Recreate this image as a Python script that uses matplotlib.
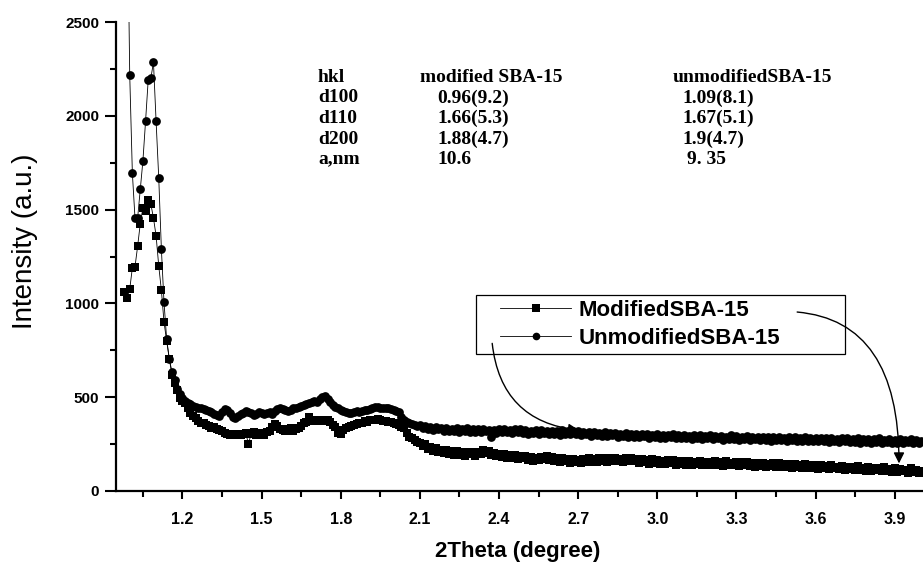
import numpy as np
import matplotlib
matplotlib.use("Agg")
import matplotlib.pyplot as plt
from matplotlib.lines import Line2D
from matplotlib.patches import Rectangle

# ---------------- data ----------------
mod_start, unmod_start, step = 0.98, 0.99, 0.01

modified = [
    1060, 1030,
    1075, 1190, 1195, 1305, 1425, 1510, 1495, 1550, 1530, 1455,
    1360, 1200, 1070, 900, 800, 705, 620, 575, 540, 495,
    480, 470, 440, 415, 400, 390, 375, 365, 360, 352,
    345, 338, 340, 330, 325, 318, 310, 305, 300, 298,
    302, 296, 300, 305, 310, 250, 305, 312, 300, 310,
    305, 300, 315, 320, 340, 355, 345, 330, 325, 320,
    328, 335, 322, 330, 338, 345, 360, 370, 392, 380,
    375, 372, 378, 380, 375, 378, 368, 350, 340, 310,
    305, 325, 335, 340, 345, 350, 355, 360, 365, 375,
    370, 378, 380, 376, 382, 378, 372, 375, 368, 370,
    360, 355, 350, 342, 335, 310, 290, 280, 270, 262,
    258, 240, 248, 226, 236, 212, 228, 206, 220, 200,
    216, 196, 212, 190, 214, 194, 208, 186, 210, 196,
    206, 188, 210, 196, 218, 200, 212, 190, 204, 184,
    198, 180, 196, 176, 192, 178, 190, 170, 188, 174,
    186, 166, 180, 160, 178, 164, 182, 168, 186, 166,
    180, 160, 176, 156, 174, 158, 172, 150, 168, 154,
    166, 148, 170, 154, 174, 156, 172, 152, 176, 160,
    174, 156, 178, 160, 176, 158, 170, 152, 174, 158,
    176, 158, 168, 150, 172, 154, 164, 146, 170, 150,
    166, 146, 162, 142, 164, 150, 166, 140, 160, 144,
    158, 140, 162, 138, 156, 142, 160, 136, 154, 140,
    156, 136, 158, 140, 152, 134, 158, 138, 150, 136,
    154, 134, 152, 136, 156, 132, 150, 130, 148, 134,
    150, 128, 146, 132, 148, 126, 150, 130, 142, 128,
    144, 124, 142, 126, 138, 120, 144, 124, 136, 122,
    140, 118, 136, 122, 134, 116, 138, 120, 130, 116,
    132, 112, 130, 116, 128, 110, 134, 114, 124, 108,
    126, 106, 124, 110, 122, 104, 126, 108, 118, 102,
    120, 100, 118, 104, 114, 96, 120, 102, 110, 96,
    104,
]

unmodified = [
    3300,
    2220, 1695, 1455, 1455, 1610, 1760, 1970, 2190, 2200, 2285,
    1970, 1670, 1290, 1005, 810, 705, 635, 590, 545, 515,
    495, 480, 470, 462, 455, 450, 445, 440, 438, 430,
    425, 420, 410, 405, 400, 420, 435, 430, 415, 395,
    388, 400, 410, 418, 425, 420, 415, 405, 412, 420,
    418, 410, 415, 420, 412, 425, 435, 440, 438, 432,
    425, 430, 440, 445, 450, 455, 458, 465, 470, 475,
    478, 475, 490, 500, 505, 490, 475, 460, 448, 440,
    432, 425, 420, 418, 415, 420, 425, 422, 428, 432,
    430, 438, 445, 448, 450, 445, 442, 445, 440, 435,
    430, 425, 420, 395, 380, 370, 362, 355, 350, 345,
    350, 334, 346, 328, 342, 324, 340, 330, 338, 320,
    336, 318, 332, 322, 338, 316, 330, 320, 334, 314,
    332, 316, 330, 312, 328, 318, 324, 290, 326, 310,
    328, 312, 330, 314, 326, 308, 332, 316, 328, 310,
    326, 306, 322, 310, 324, 304, 326, 308, 320, 302,
    322, 304, 318, 300, 324, 306, 320, 302, 318, 306,
    320, 298, 316, 302, 312, 294, 316, 298, 310, 294,
    312, 292, 308, 296, 310, 290, 306, 294, 310, 288,
    306, 290, 304, 286, 302, 292, 306, 284, 300, 288,
    302, 284, 298, 282, 300, 288, 302, 280, 296, 284,
    298, 280, 294, 278, 296, 284, 300, 278, 292, 282,
    296, 276, 292, 280, 294, 274, 290, 278, 296, 276,
    292, 274, 290, 276, 294, 272, 288, 276, 290, 270,
    288, 272, 290, 268, 286, 274, 290, 270, 284, 268,
    286, 270, 288, 266, 284, 268, 286, 264, 282, 268,
    284, 264, 280, 268, 284, 262, 280, 266, 278, 260,
    280, 264, 282, 260, 276, 262, 280, 258, 276, 262,
    278, 258, 276, 262, 280, 256, 274, 260, 276, 254,
    274, 258, 278, 256, 272, 260, 276, 254, 272, 258,
    266,
]

x_mod = np.round(mod_start + step * np.arange(len(modified)), 2)
x_unmod = np.round(unmod_start + step * np.arange(len(unmodified)), 2)

series_labels = ["ModifiedSBA-15", "UnmodifiedSBA-15"]
x_ticks = [1.2, 1.5, 1.8, 2.1, 2.4, 2.7, 3.0, 3.3, 3.6, 3.9]
x_minor = [1.05, 1.35, 1.65, 1.95, 2.25, 2.55, 2.85, 3.15, 3.45, 3.75]
y_ticks = [0, 500, 1000, 1500, 2000, 2500]
y_minor = [250, 750, 1250, 1750, 2250]

table_rows = [
    ["hkl", "modified SBA-15", "unmodifiedSBA-15"],
    ["d100", "0.96(9.2)", "1.09(8.1)"],
    ["d110", "1.66(5.3)", "1.67(5.1)"],
    ["d200", "1.88(4.7)", "1.9(4.7)"],
    ["a,nm", "10.6", "9. 35"],
]

sans = ["Liberation Sans", "DejaVu Sans"]
serif = ["Liberation Serif", "DejaVu Serif"]

# ---------------- figure ----------------
W, H = 923, 569
fig = plt.figure(figsize=(W / 100, H / 100), dpi=100)
ax_l, ax_r, ax_t, ax_b = 116, 923, 22, 491
ax = fig.add_axes([ax_l / W, 1 - ax_b / H, (ax_r - ax_l) / W, (ax_b - ax_t) / H])

ax.plot(x_mod, modified, color="black", lw=0.6, marker="s", markersize=6.0,
        markeredgewidth=0, zorder=3)
ax.plot(x_unmod, unmodified, color="black", lw=0.6, marker="o", markersize=6.3,
        markeredgewidth=0, zorder=3)

ax.set_xlim(0.948, 4.007)
ax.set_ylim(0, 2500)

for s in ["top", "right"]:
    ax.spines[s].set_visible(False)
for s in ["left", "bottom"]:
    ax.spines[s].set_linewidth(1.6)

ax.set_xticks(x_ticks)
ax.set_xticklabels([f"{v:.1f}" for v in x_ticks])
ax.set_xticks(x_minor, minor=True)
ax.set_yticks(y_ticks)
ax.set_yticks(y_minor, minor=True)

ax.tick_params(axis="y", which="major", direction="out", length=8, width=1.5, pad=4)
ax.tick_params(axis="y", which="minor", direction="out", length=4.5, width=1.5)
ax.tick_params(axis="x", which="major", direction="out", length=6, width=1.5, pad=9)
ax.tick_params(axis="x", which="minor", direction="out", length=4, width=1.5)

for lab in ax.get_xticklabels():
    lab.set_fontfamily(sans)
    lab.set_fontweight("bold")
    lab.set_fontsize(11.5)
for lab in ax.get_yticklabels():
    lab.set_fontfamily(sans)
    lab.set_fontweight("bold")
    lab.set_fontsize(11)

fig.text(518 / W, 1 - 551 / H, "2Theta (degree)", ha="center", va="center",
         fontsize=16, fontweight="bold", family=sans)
fig.text(25 / W, 1 - 241 / H, "Intensity (a.u.)", ha="center", va="center",
         rotation=90, fontsize=20, family=sans)

# table text
row_y = [78, 98, 118, 139, 159]
head_x = [318, 420, 673]
val_x = [318, 437, 682]
for i, row in enumerate(table_rows):
    for j, txt in enumerate(row):
        xx = head_x[j] if i == 0 else val_x[j]
        if i == 4 and j == 2:
            xx = 687
        fig.text(xx / W, 1 - row_y[i] / H, txt, ha="left", va="center",
                 fontsize=14, fontweight="bold", family=serif)

# legend
handles = [
    Line2D([], [], color="black", lw=0.6, marker="s", markersize=6, markeredgewidth=0),
    Line2D([], [], color="black", lw=0.6, marker="o", markersize=5.5, markeredgewidth=0),
]
leg = ax.legend(handles, series_labels, loc="upper left",
                bbox_to_anchor=((500 - ax_l) / (ax_r - ax_l), (ax_b - 300) / (ax_b - ax_t)),
                frameon=False, handlelength=3.2, handletextpad=0.35,
                borderpad=0, labelspacing=0.3, borderaxespad=0,
                prop={"family": sans, "weight": "bold", "size": 16})
fig.add_artist(Rectangle((476 / W, 1 - 354 / H), 369 / W, 59 / H,
                         transform=fig.transFigure, fill=False,
                         edgecolor="black", lw=0.9))

# arrows
ax.annotate("", xy=(2.703, 324), xytext=(2.374, 787),
            arrowprops=dict(arrowstyle="-|>", connectionstyle="arc3,rad=0.4",
                            color="black", lw=1.0, mutation_scale=16,
                            shrinkA=0, shrinkB=0))
ax.annotate("", xy=(3.916, 147), xytext=(3.53, 954),
            arrowprops=dict(arrowstyle="-|>", connectionstyle="angle3,angleA=-5,angleB=90",
                            color="black", lw=1.0, mutation_scale=16,
                            shrinkA=0, shrinkB=0))

fig.savefig("out.png", dpi=100)
